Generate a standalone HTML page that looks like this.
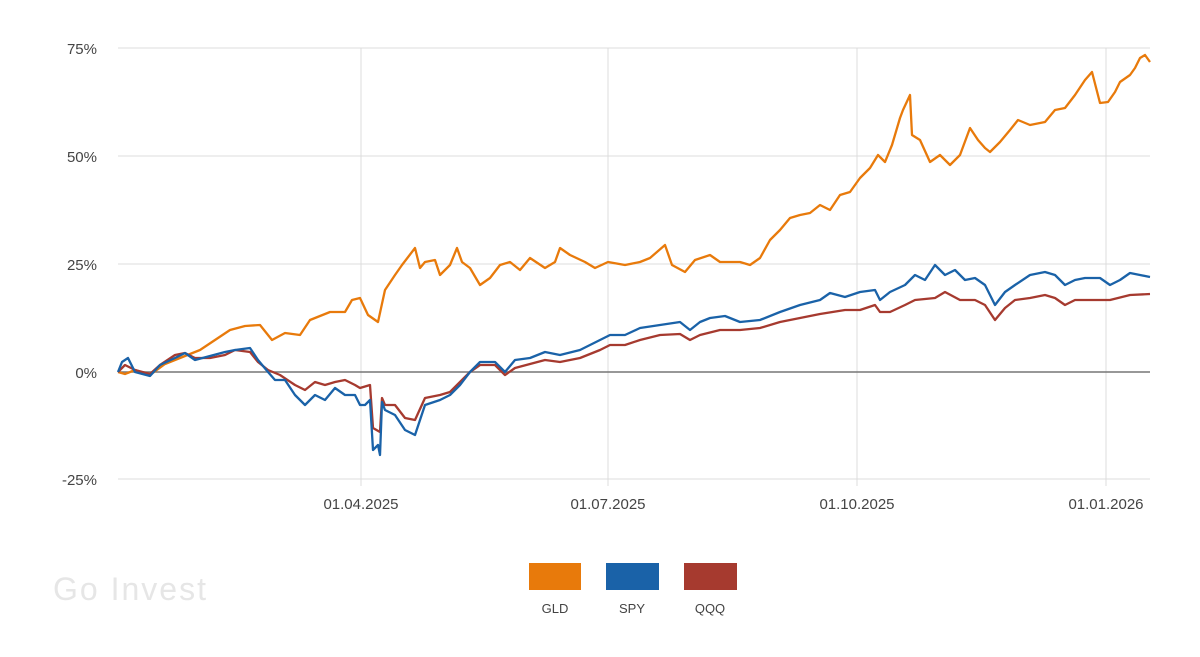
<!DOCTYPE html>
<html><head><meta charset="utf-8"><style>
html,body{margin:0;padding:0;background:#fff;width:1200px;height:657px;overflow:hidden;font-family:"Liberation Sans",sans-serif}
</style></head><body>
<svg width="1200" height="657" viewBox="0 0 1200 657" xmlns="http://www.w3.org/2000/svg">
<g stroke="#dcdcdc" stroke-width="1">
<line x1="118" y1="48" x2="1150" y2="48"/><line x1="118" y1="156" x2="1150" y2="156"/>
<line x1="118" y1="264" x2="1150" y2="264"/><line x1="118" y1="479" x2="1150" y2="479"/>
<line x1="361" y1="48" x2="361" y2="486"/><line x1="608" y1="48" x2="608" y2="486"/>
<line x1="857" y1="48" x2="857" y2="486"/><line x1="1106" y1="48" x2="1106" y2="486"/>
</g>
<line x1="118" y1="372" x2="1150" y2="372" stroke="#777" stroke-width="1.5"/>
<g font-size="15" fill="#444" text-anchor="end">
<text x="97" y="54">75%</text><text x="97" y="162">50%</text><text x="97" y="270">25%</text><text x="97" y="378">0%</text><text x="97" y="485">-25%</text>
</g>
<g font-size="15" fill="#444" text-anchor="middle">
<text x="361" y="509">01.04.2025</text><text x="608" y="509">01.07.2025</text><text x="857" y="509">01.10.2025</text><text x="1106" y="509">01.01.2026</text>
</g>
<g fill="none" stroke-width="2.3" stroke-linejoin="round">
<polyline stroke="#e87a0b" points="118,372 125,374 135,370 150,375 165,364 185,356 200,350 215,340 230,330 245,326 260,325 272,340 285,333 300,335 310,320 330,312 345,312 352,300 360,298 368,315 378,322 385,290 395,275 402,265 415,248 420,268 425,262 435,260 440,275 450,265 457,248 462,262 470,268 480,285 490,278 500,265 510,262 520,270 530,258 545,268 555,262 560,248 570,255 585,262 595,268 608,262 625,265 640,262 650,258 665,245 672,265 685,272 695,260 710,255 720,262 740,262 750,265 760,258 770,240 780,230 790,218 800,215 810,213 820,205 830,210 840,195 850,192 860,178 870,168 878,155 885,162 892,145 900,118 903,110 910,95 912,135 920,140 930,162 940,155 950,165 960,155 970,128 978,140 985,148 990,152 1000,142 1010,130 1018,120 1030,125 1045,122 1055,110 1065,108 1075,95 1085,80 1092,72 1100,103 1108,102 1115,92 1120,82 1130,75 1135,68 1140,58 1145,55 1150,62"/>
<polyline stroke="#a63a2f" points="118,372 125,365 135,370 150,374 160,365 175,355 185,353 195,358 210,358 225,355 235,350 250,352 258,362 268,370 280,375 295,385 305,390 315,382 325,385 335,382 345,380 355,385 360,388 370,385 373,428 380,432 382,398 385,405 395,405 405,418 415,420 425,398 440,395 450,392 460,382 470,372 480,365 495,365 505,375 515,368 530,364 545,360 560,362 580,358 600,350 610,345 625,345 640,340 660,335 680,334 690,340 700,335 720,330 740,330 760,328 780,322 800,318 820,314 845,310 860,310 875,305 880,312 890,312 905,305 915,300 935,298 945,292 960,300 975,300 985,305 995,320 1005,308 1015,300 1030,298 1045,295 1055,298 1065,305 1075,300 1100,300 1110,300 1130,295 1150,294"/>
<polyline stroke="#1a62a8" points="118,372 122,362 128,358 135,372 150,376 160,365 175,358 185,353 195,360 210,356 225,352 235,350 250,348 258,360 268,372 275,380 285,380 295,395 305,405 315,395 325,400 335,388 345,395 355,395 360,405 365,405 370,400 373,450 378,445 380,455 382,402 385,410 395,415 405,430 415,435 425,405 440,400 450,395 460,385 470,372 480,362 495,362 505,372 515,360 530,358 545,352 560,355 580,350 600,340 610,335 625,335 640,328 660,325 680,322 690,330 700,322 710,318 725,316 740,322 760,320 780,312 800,305 820,300 830,293 845,297 860,292 875,290 880,300 890,292 905,285 915,275 925,280 935,265 945,275 955,270 965,280 975,278 985,285 995,305 1005,292 1015,285 1030,275 1045,272 1055,275 1065,285 1075,280 1085,278 1100,278 1110,285 1120,280 1130,273 1140,275 1150,277"/>
</g>
<text x="53" y="600" font-size="32" letter-spacing="2" fill="#e6e6e6">Go Invest</text>
<rect x="529" y="563" width="52" height="27" fill="#e87a0b"/>
<rect x="606" y="563" width="53" height="27" fill="#1a62a8"/>
<rect x="684" y="563" width="53" height="27" fill="#a63a2f"/>
<g font-size="13" fill="#444" text-anchor="middle">
<text x="555" y="613">GLD</text><text x="632" y="613">SPY</text><text x="710" y="613">QQQ</text>
</g>
</svg>
</body></html>
